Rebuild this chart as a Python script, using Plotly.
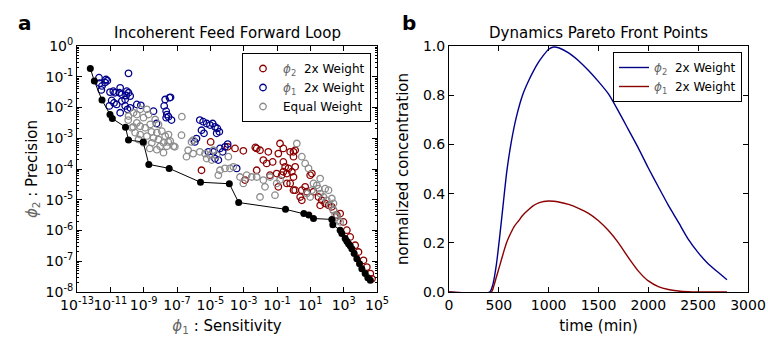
import numpy as np
import plotly.graph_objects as go

# ---------------- Panel a data (log10 values) ----------------
front_log_x = [-12.20, -11.96, -11.50, -11.02, -10.88, -10.09, -9.91, -9.03, -8.69, -7.47,
               -5.59, -3.86, -3.30, -0.49, 0.61, 0.91, 1.19, 2.29, 2.35, 2.79, 2.89, 3.09,
               3.19, 3.29, 3.39, 3.49, 3.63, 3.79, 3.95, 4.09, 4.29, 4.45, 4.60]
front_log_y = [-0.73, -1.14, -1.76, -2.23, -2.36, -2.64, -3.06, -3.12, -3.85, -3.98,
               -4.43, -4.48, -5.09, -5.31, -5.45, -5.50, -5.61, -5.64, -5.81, -5.99, -6.10, -6.26,
               -6.35, -6.43, -6.50, -6.59, -6.75, -6.92, -7.08, -7.24, -7.40, -7.54, -7.62]

blue_log_x = [-11.68, -11.26, -11.18, -11.32, -11.50, -11.02, -10.82, -10.72, -10.41, -10.46,
              -10.31, -10.01, -9.91, -10.05, -9.81, -10.11, -10.31, -10.92, -10.78, -10.62,
              -11.06, -10.11, -9.97, -9.81, -10.41, -9.91, -9.41, -9.17, -8.41, -7.71,
              -7.45, -7.77, -7.65, -7.61, -7.51, -7.65, -7.39, -7.33, -8.23, -11.64, -11.54,
              -5.63, -5.43, -5.22, -5.02, -4.86, -4.72, -4.58, -4.46, -4.62, -5.53, -5.38,
              -5.83, -5.93, -4.42, -4.26, -4.12, -4.52, -4.72, -3.42, -3.96, -4.82, -5.12]
blue_log_y = [-1.03, -1.09, -1.13, -1.19, -1.30, -1.50, -1.47, -1.52, -1.36, -1.52,
              -1.57, -1.47, -1.52, -1.61, -1.63, -1.74, -1.79, -1.77, -1.85, -1.90,
              -1.95, -1.95, -2.06, -2.01, -2.17, -0.89, -1.90, -1.93, -2.12, -1.74,
              -1.68, -1.95, -2.12, -2.23, -2.30, -2.33, -1.67, -2.41, -2.52, -1.21, -1.43,
              -2.41, -2.46, -2.52, -2.57, -2.52, -2.63, -2.68, -2.79, -2.84, -2.74, -2.84,
              -3.01, -3.12, -3.33, -3.44, -3.28, -3.71, -3.66, -3.98, -3.19, -3.44, -3.44]

red_log_x = [-4.98, -5.53, -3.96, -3.52, -3.02, -2.30, -2.22, -2.02, -1.52, -0.92, -0.82,
             -0.62, -0.21, -0.01, -0.01, 0.09, -2.22, -1.82, -1.62, -1.26, -0.62, -0.51,
             -0.31, -0.11, -0.62, -0.41, 0.09, 1.09, -1.02, -0.72, -0.01, -1.42, -0.92,
             -0.21, -0.01, -0.41, 0.09, 0.49, 0.69, 0.79, 0.39, 0.49, 1.59, 2.29, 2.39,
             2.79, 0.99, 1.19, 1.49, 1.69, 1.89, 2.09, -2.92, 3.19, 3.39, 3.69, 3.89, 4.19,
             4.39, 4.60, 4.70, 2.99, 2.59]
red_log_y = [-3.12, -4.04, -3.28, -3.33, -3.41, -3.30, -3.33, -3.39, -3.44, -3.50, -3.17,
             -3.33, -3.44, -3.44, -3.60, -3.39, -4.04, -3.71, -3.82, -3.77, -3.77, -3.93,
             -3.98, -4.09, -4.09, -4.15, -3.93, -4.15, -4.15, -4.20, -4.26, -4.20, -4.58,
             -4.47, -4.69, -4.47, -4.69, -4.69, -4.58, -4.74, -4.91, -5.02, -5.18, -5.23, -5.34,
             -5.45, -4.20, -4.74, -4.91, -5.02, -5.12, -5.18, -4.36, -5.99, -6.21, -6.48, -6.70,
             -6.97, -7.19, -7.40, -7.57, -5.72, -5.50]

grey_log_x = [-9.91, -9.61, -9.41, -9.21, -8.81, -9.01, -8.71, -9.41, -9.21, -8.91, -8.61,
              -8.31, -8.11, -8.21, -7.91, -7.71, -7.51, -7.41, -7.81, -8.11, -8.41, -8.01,
              -7.61, -7.21, -6.71, -9.21, -9.51, -9.71, -8.81, -8.51, -8.21, -7.81, -9.01,
              -9.31, -9.93, -9.63, -8.53, -7.53, -7.13, -8.63, -6.13, -6.03, -6.33, -6.43,
              -6.03, -5.63, -5.32, -5.02, -4.82, -4.62, -4.92, -5.22, -3.92, -4.42, -4.12,
              -3.82, -4.52, -2.82, -2.52, -3.02, -1.82, -1.42, -2.02, -1.72, -0.82, 0.19,
              0.49, 0.69, 0.89, -1.02, -1.12, 1.19, 1.39, 1.49, 1.59, 1.79, 1.99, 2.19, 2.39,
              2.49, 2.59, 0.99, 1.09, 0.79, 1.59, 1.89, 2.09, 2.29, 2.39, -3.22, -2.22, -3.62,
              -6.73, 2.69, 2.79]
grey_log_y = [-2.28, -2.17, -2.23, -2.06, -2.06, -2.33, -2.23, -2.50, -2.61, -2.66, -2.55,
              -2.39, -2.55, -2.82, -2.77, -2.93, -2.88, -3.09, -3.15, -3.04, -2.99, -3.26,
              -3.26, -3.26, -2.30, -2.88, -2.82, -2.66, -2.93, -3.15, -3.37, -3.47, -3.15,
              -3.04, -2.41, -2.63, -2.79, -3.12, -3.28, -3.33, -3.12, -3.06, -3.39, -3.60,
              -3.50, -3.44, -3.50, -3.55, -3.39, -3.55, -3.71, -3.66, -3.60, -4.04, -3.98,
              -3.98, -4.20, -4.20, -4.26, -4.47, -4.36, -4.26, -4.91, -4.58, -4.36, -3.17,
              -3.60, -3.82, -3.98, -4.47, -4.85, -4.47, -4.53, -4.64, -4.80, -4.91, -5.02, -5.18, -5.34,
              -5.50, -5.56, -4.91, -4.69, -4.80, -4.31, -4.64, -4.69, -4.96, -5.12, -4.26, -4.26, -3.93,
              -2.90, -5.67, -5.72]

x_tick_exps = [-13, -11, -9, -7, -5, -3, -1, 1, 3, 5]
y_tick_exps = [0, -1, -2, -3, -4, -5, -6, -7, -8]

# ---------------- Panel b data ----------------
phi2_time = [0, 408, 440, 475, 510, 542, 580, 625, 675, 742, 800, 843, 900, 943, 1000, 1050,
             1100, 1200, 1300, 1400, 1500, 1600, 1700, 1800, 1900, 2000, 2100, 2200, 2300, 2400,
             2500, 2600, 2700, 2789]
phi2_conc = [0, 0, 0.03, 0.11, 0.23, 0.35, 0.49, 0.61, 0.71, 0.805, 0.86, 0.895, 0.935, 0.96,
             0.987, 0.996, 0.993, 0.972, 0.94, 0.90, 0.855, 0.805, 0.735, 0.66, 0.585, 0.504,
             0.428, 0.353, 0.285, 0.215, 0.16, 0.115, 0.08, 0.05]
phi1_time = [0, 425, 450, 475, 500, 525, 550, 582, 620, 660, 700, 736, 800, 843, 900, 950, 1000,
             1050, 1100, 1200, 1300, 1400, 1500, 1600, 1700, 1800, 1900, 2000, 2100, 2200, 2300,
             2400, 2500, 2789]
phi1_conc = [0, 0, 0.025, 0.06, 0.095, 0.13, 0.165, 0.205, 0.24, 0.27, 0.29, 0.31, 0.335, 0.35,
             0.362, 0.368, 0.37, 0.369, 0.366, 0.356, 0.34, 0.32, 0.29, 0.25, 0.20, 0.14, 0.085,
             0.045, 0.022, 0.01, 0.004, 0.001, 0.0, 0.0]
time_ticks = [0, 500, 1000, 1500, 2000, 2500, 3000]
conc_ticks = [0.0, 0.2, 0.4, 0.6, 0.8, 1.0]

RED = "#8b0000"
BLUE = "#00008b"
GREY = "#8c8c8c"
FONT = "DejaVu Sans"
PHI = "<span style='color:#666666'><i>ϕ</i><sub>%d</sub></span>"

def pw(v):
    return list(np.power(10.0, np.array(v)))

fig = go.Figure()

fig.add_trace(go.Scatter(x=pw(red_log_x), y=pw(red_log_y), mode="markers",
                         name=(PHI % 2) + "  2x Weight",
                         marker=dict(symbol="circle-open", size=6.5, color=RED, line=dict(width=1.3, color=RED)),
                         xaxis="x", yaxis="y", legend="legend"))
fig.add_trace(go.Scatter(x=pw(blue_log_x), y=pw(blue_log_y), mode="markers",
                         name=(PHI % 1) + "  2x Weight",
                         marker=dict(symbol="circle-open", size=6.5, color=BLUE, line=dict(width=1.3, color=BLUE)),
                         xaxis="x", yaxis="y", legend="legend"))
fig.add_trace(go.Scatter(x=pw(grey_log_x), y=pw(grey_log_y), mode="markers",
                         name="Equal Weight",
                         marker=dict(symbol="circle-open", size=6.5, color=GREY, line=dict(width=1.3, color=GREY)),
                         xaxis="x", yaxis="y", legend="legend"))
fig.add_trace(go.Scatter(x=pw(front_log_x), y=pw(front_log_y), mode="lines+markers",
                         showlegend=False, line=dict(color="black", width=1),
                         marker=dict(symbol="circle", size=7, color="black"),
                         xaxis="x", yaxis="y"))

fig.add_trace(go.Scatter(x=phi2_time, y=phi2_conc, mode="lines",
                         line=dict(color=BLUE, width=1.4, shape="spline", smoothing=0.6),
                         name=(PHI % 2) + "  2x Weight",
                         xaxis="x2", yaxis="y2", legend="legend2"))
fig.add_trace(go.Scatter(x=phi1_time, y=phi1_conc, mode="lines",
                         line=dict(color=RED, width=1.4, shape="spline", smoothing=0.6),
                         name=(PHI % 1) + "  2x Weight",
                         xaxis="x2", yaxis="y2", legend="legend2"))

W, H = 768, 338
def px_x(p):
    return p / W
def px_y(p):
    return (H - p) / H

axis_common = dict(showgrid=False, zeroline=False, showline=True, linecolor="black", linewidth=1,
                   mirror="allticks", ticks="inside", ticklen=5, tickcolor="black",
                   automargin=False, tickangle=0,
                   tickfont=dict(family=FONT, size=14, color="black"))
TITLE_FONT = dict(family=FONT, size=15, color="black")

fig.update_layout(
    template="none",
    width=W, height=H,
    margin=dict(l=0, r=0, t=0, b=0, pad=0, autoexpand=False),
    paper_bgcolor="white", plot_bgcolor="white",
    font=dict(family=FONT, color="black"),
    xaxis=dict(domain=[px_x(77), px_x(377)], type="log", range=[-13, 5],
               tickvals=[10.0 ** e for e in x_tick_exps],
               ticktext=["10<sup>%d</sup>" % e for e in x_tick_exps],
               anchor="y",
               title=dict(text=(PHI % 1) + " : Sensitivity", font=TITLE_FONT, standoff=8),
               **axis_common),
    yaxis=dict(domain=[px_y(292), px_y(46)], type="log", range=[-8, 0],
               tickvals=[10.0 ** e for e in y_tick_exps],
               ticktext=["10<sup>%d</sup>" % e for e in y_tick_exps],
               minor=dict(ticks="inside", ticklen=2, tickcolor="black",
                          tickvals=[m * 10.0 ** k for k in range(-8, 0) for m in range(2, 10)]),
               anchor="x",
               title=dict(text=(PHI % 2) + " : Precision", font=TITLE_FONT, standoff=4),
               **axis_common),
    xaxis2=dict(domain=[px_x(449), px_x(748)], range=[0, 3000], tickvals=time_ticks,
                anchor="y2",
                title=dict(text="time (min)", font=TITLE_FONT, standoff=8),
                **axis_common),
    yaxis2=dict(domain=[px_y(292), px_y(46)], range=[0, 1.0], tickvals=conc_ticks,
                tickformat=".1f", anchor="x2",
                title=dict(text="normalized concentration", font=TITLE_FONT, standoff=10),
                **axis_common),
    legend=dict(x=px_x(242), y=px_y(53), xanchor="left", yanchor="top",
                bgcolor="white", bordercolor="black", borderwidth=1,
                font=dict(family=FONT, size=12, color="black"), itemwidth=30,
                tracegroupgap=0),
    legend2=dict(x=px_x(613), y=px_y(52), xanchor="left", yanchor="top",
                 bgcolor="white", bordercolor="black", borderwidth=1,
                 font=dict(family=FONT, size=12, color="black"), itemwidth=30),
    showlegend=True,
    annotations=[
        dict(text="<b>a</b>", x=px_x(16), y=px_y(23), xref="paper", yref="paper",
             xanchor="left", yanchor="middle", showarrow=False, font=dict(family=FONT, size=20)),
        dict(text="<b>b</b>", x=px_x(400), y=px_y(23), xref="paper", yref="paper",
             xanchor="left", yanchor="middle", showarrow=False, font=dict(family=FONT, size=20)),
        dict(text="Incoherent Feed Forward Loop", x=px_x(227), y=px_y(33), xref="paper", yref="paper",
             xanchor="center", yanchor="middle", showarrow=False, font=dict(family=FONT, size=15)),
        dict(text="Dynamics Pareto Front Points", x=px_x(598), y=px_y(33), xref="paper", yref="paper",
             xanchor="center", yanchor="middle", showarrow=False, font=dict(family=FONT, size=15)),
    ],
)

fig.write_html("out.html")
